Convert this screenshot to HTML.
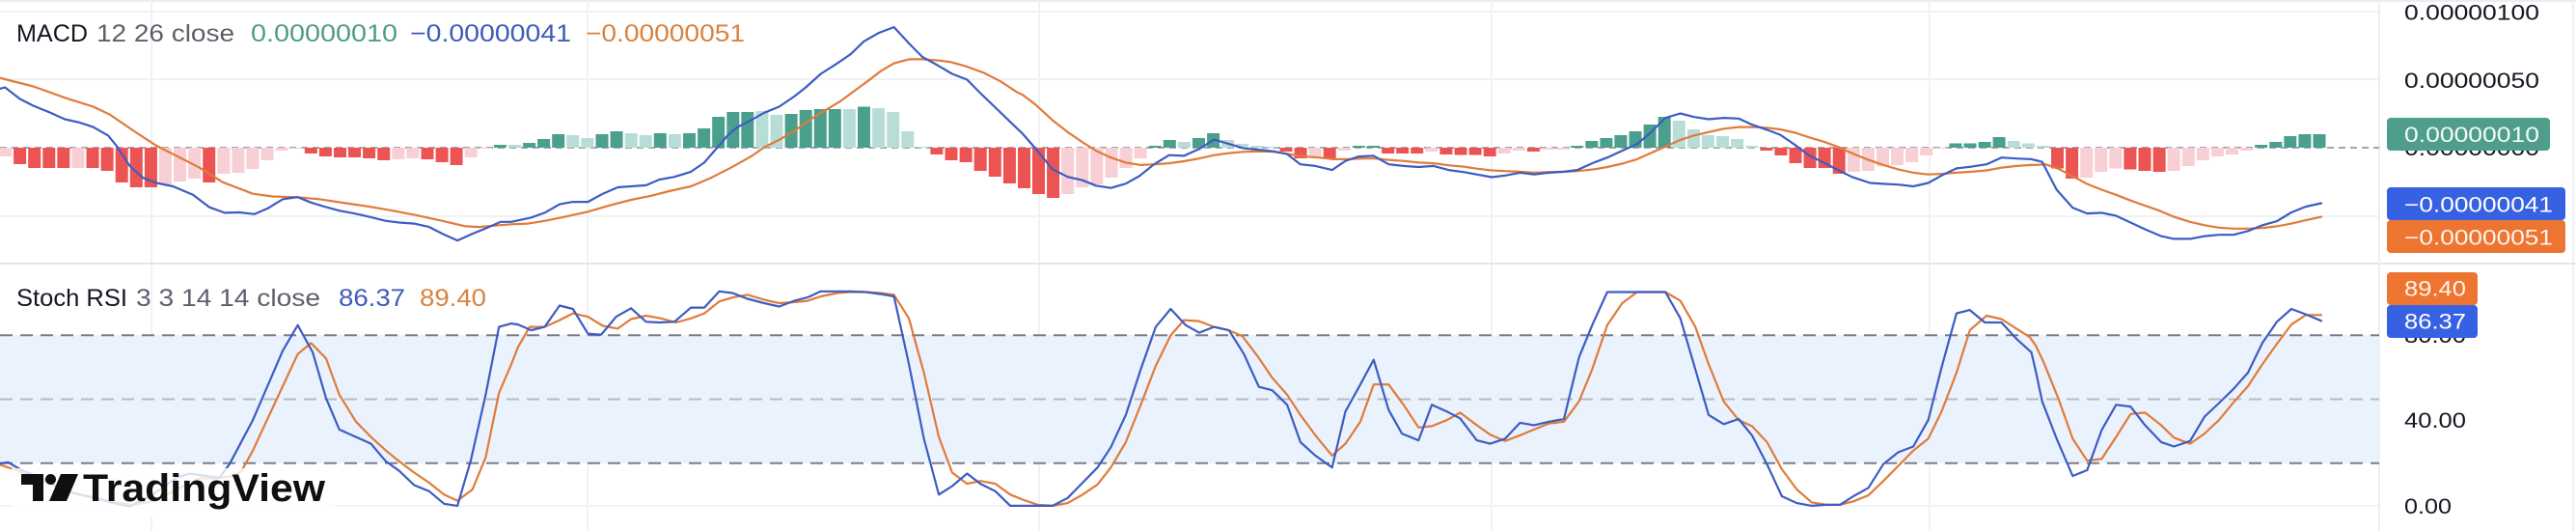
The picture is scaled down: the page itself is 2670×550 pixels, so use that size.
<!DOCTYPE html>
<html><head><meta charset="utf-8">
<style>
html,body{margin:0;padding:0;background:#fff;width:2670px;height:550px;overflow:hidden}
svg{display:block}
text{font-family:"Liberation Sans",Arial,sans-serif}
</style></head>
<body>
<svg id="s" width="2670" height="550" viewBox="0 0 2670 550" xmlns="http://www.w3.org/2000/svg">
  <rect x="0" y="0" width="2670" height="550" fill="#ffffff"/>
  <!-- borders -->
  <rect x="0" y="0" width="2670" height="2" fill="#ebedf0"/>
  <rect x="2666" y="0" width="2" height="550" fill="#eef0f3"/>
  <!-- horizontal grid MACD -->
  <g fill="#f0f2f5">
    <rect x="0" y="11" width="2466" height="2"/>
    <rect x="0" y="81" width="2466" height="2"/>
    <rect x="0" y="223" width="2466" height="2"/>
    <rect x="0" y="434.5" width="2466" height="2"/>
    <rect x="0" y="523" width="2466" height="2"/>
  </g>
  <!-- vertical grid -->
  <g fill="#f0f2f5">
    <rect x="156" y="0" width="2" height="550"/>
    <rect x="608" y="0" width="2" height="550"/>
    <rect x="1076" y="0" width="2" height="550"/>
    <rect x="1545" y="0" width="2" height="550"/>
    <rect x="1999" y="0" width="2" height="550"/>
  </g>
  <!-- pane separator -->
  <rect x="0" y="272" width="2670" height="2" fill="#e4e6eb"/>
  <!-- axis separator -->
  <rect x="2465" y="0" width="2" height="550" fill="#eceef1"/>

  <!-- stoch band -->
  <rect x="0" y="347" width="2466" height="133" fill="#eaf2fd"/>
  <line x1="0" y1="347.2" x2="2466" y2="347.2" stroke="#7b7e88" stroke-width="2" stroke-dasharray="13 8"/>
  <line x1="0" y1="413.5" x2="2466" y2="413.5" stroke="#b6b9c1" stroke-width="2" stroke-dasharray="13 8"/>
  <line x1="0" y1="479.8" x2="2466" y2="479.8" stroke="#7b7e88" stroke-width="2" stroke-dasharray="13 8"/>

  <!-- MACD zero line -->
  <line x1="0" y1="153" x2="2466" y2="153" stroke="#a3a6ae" stroke-width="2" stroke-dasharray="7 5"/>

  <g id="hist"></g>
  <g id="lines" fill="none" stroke-width="2.2" stroke-linejoin="round" stroke-linecap="round"></g>

  <!-- logo -->
  <rect x="12" y="485" width="335" height="50" fill="#ffffff" opacity="0.8"/>
  <g fill="#0f0f0f">
    <path d="M22,491 H45 V519 H34 V502 H22 Z"/>
    <circle cx="52.5" cy="496.5" r="5.5"/>
    <path d="M63,491 H81 L69,519 H51 Z"/>
  </g>
  <text x="86" y="519" font-size="40" font-weight="bold" fill="#0f0f0f" textLength="251" lengthAdjust="spacingAndGlyphs">TradingView</text>

  <!-- legends -->
  <text x="17" y="43" font-size="25" fill="#131722" textLength="74" lengthAdjust="spacingAndGlyphs">MACD</text>
  <text x="100" y="43" font-size="25" fill="#5d606b" textLength="143" lengthAdjust="spacingAndGlyphs">12 26 close</text>
  <text x="260" y="43" font-size="25" fill="#4f9c88" textLength="152" lengthAdjust="spacingAndGlyphs">0.00000010</text>
  <text x="425" y="43" font-size="25" fill="#3d5cb8" textLength="167" lengthAdjust="spacingAndGlyphs">−0.00000041</text>
  <text x="607" y="43" font-size="25" fill="#d9823f" textLength="165" lengthAdjust="spacingAndGlyphs">−0.00000051</text>

  <text x="17" y="317" font-size="25" fill="#131722" textLength="115" lengthAdjust="spacingAndGlyphs">Stoch RSI</text>
  <text x="141" y="317" font-size="25" fill="#5d606b" textLength="191" lengthAdjust="spacingAndGlyphs">3 3 14 14 close</text>
  <text x="351" y="317" font-size="25" fill="#3d5cb8" textLength="69" lengthAdjust="spacingAndGlyphs">86.37</text>
  <text x="435" y="317" font-size="25" fill="#d9823f" textLength="69" lengthAdjust="spacingAndGlyphs">89.40</text>

  <!-- right axis MACD -->
  <g font-size="22" fill="#131722">
    <text x="2492" y="20.5" textLength="140" lengthAdjust="spacingAndGlyphs">0.00000100</text>
    <text x="2492" y="91" textLength="140" lengthAdjust="spacingAndGlyphs">0.00000050</text>
    <text x="2492" y="161" textLength="140" lengthAdjust="spacingAndGlyphs">0.00000000</text>
    <text x="2492" y="355" textLength="64" lengthAdjust="spacingAndGlyphs">80.00</text>
    <text x="2492" y="443" textLength="64" lengthAdjust="spacingAndGlyphs">40.00</text>
    <text x="2492" y="532" textLength="49" lengthAdjust="spacingAndGlyphs">0.00</text>
  </g>
  <!-- value labels -->
  <rect x="2474" y="122" width="169" height="34" rx="4" fill="#4f9e8c"/>
  <text x="2492" y="147" font-size="22" fill="#f2faf8" textLength="140" lengthAdjust="spacingAndGlyphs">0.00000010</text>
  <rect x="2474" y="194" width="185" height="34" rx="4" fill="#3761e3"/>
  <text x="2492" y="219.5" font-size="22" fill="#ffffff" textLength="154" lengthAdjust="spacingAndGlyphs">−0.00000041</text>
  <rect x="2474" y="228" width="185" height="34" rx="4" fill="#ee7431"/>
  <text x="2492" y="253.5" font-size="22" fill="#fff4ea" textLength="154" lengthAdjust="spacingAndGlyphs">−0.00000051</text>

  <rect x="2474" y="282" width="94" height="34" rx="4" fill="#ee7431"/>
  <text x="2492" y="306.5" font-size="22" fill="#fff4ea" textLength="64" lengthAdjust="spacingAndGlyphs">89.40</text>
  <rect x="2474" y="316" width="94" height="34" rx="4" fill="#3761e3"/>
  <text x="2492" y="340.5" font-size="22" fill="#ffffff" textLength="64" lengthAdjust="spacingAndGlyphs">86.37</text>
</svg>
<script>
(function(){
var NS="http://www.w3.org/2000/svg";
var Z=[[0,2.9,2.85,530],[530,2.9,2.85,1060],[1060,2.9,2.85,1590],[1590,2.9,2.85,2110],[2110,3,2.85,99999]];
function pts(arrs){var out=[];for(var i=0;i<arrs.length;i++){var a=arrs[i],z=Z[i];for(var j=0;j<a.length;j+=2){var x=z[0]+a[j]/z[1],y=a[j+1]/z[2];if(x<z[3])out.push(x.toFixed(1)+","+y.toFixed(1));}}return out.join(" ");}
var H=[-9,-17,-21,-21,-21,-21,-21,-24,-36,-41,-41,-38,-35,-32,-36,-27,-26,-22,-13,-3,-1,-6,-9,-10,-10,-11,-13,-12,-11,-12,-15,-18,-10,-1,3,3,5,9,14,13,10,14,17,15,13,15,14,15,20,32,37,37,38,34,35,39,40,40,40,42.5,41,37,17,1,-7,-13,-15,-24,-30,-37,-42,-48,-52,-48,-41,-38,-31,-21,-11,2,8,6,10,15,8,4,2,1,-4,-11,-9,-12,-3,2,2,-6,-6,-6,-4,-7,-7.5,-7.5,-9,-6,-3,-4,-2,-2,2,7,10,13,17,24,32,28,19,13,12,9,2,-3,-8,-16,-21,-21,-27,-25,-24,-19,-18,-15,-8,-1,4.5,4.5,6,11,7,4.5,2,-21.5,-32,-31,-25,-21.5,-22.5,-24,-25,-24,-19,-13,-9,-7,-3,3,6,12,14,14];
var C="PRRRRPRRRRRPPPRPPPPPPRRRRRRPPRRRPP"+"GLGGGLLGGLLGLGGGGGLLGGGGLGLLLL"+"RRRRRRRRRPPPPPP"+"GGLGGLLLL"+"RRPRPGGRRRPRRRRPPRPP"+"GGGGGGGLLLLLL"+"RRRRRRPPPPPPP"+"GGGGLLL"+"RRPPPRRRPPPPPP"+"GGGGG";
var col={R:"#ec5454",P:"#f8cfd5",G:"#4a9f8d",L:"#b8ddd7"};
var hs="";
for(var k=0;k<H.length;k++){var cx=5.5+15.085*k,h=H[k],y=h>=0?153-h:153,hh=Math.max(Math.abs(h),1);hs+='<rect x="'+(cx-6.5).toFixed(1)+'" y="'+y.toFixed(1)+'" width="13" height="'+hh.toFixed(1)+'" fill="'+col[C.charAt(k)]+'"/>';}
var hg=document.getElementById("hist");
var tmp=document.createElementNS(NS,"g");
var parser=new DOMParser();
function addSvg(g,str){var doc=parser.parseFromString('<svg xmlns="'+NS+'">'+str+'</svg>',"image/svg+xml");var ch=doc.documentElement.childNodes;for(var i=0;i<ch.length;i++){g.appendChild(document.importNode(ch[i],true));}}
addSvg(hg,hs);

var MB=[[0,262,15,258,60,292,100,312,150,332,195,352,240,362,280,375,325,400,350,430,390,490,430,525,470,540,520,550,580,575,630,612,675,628,720,627,765,632,805,615,850,588,895,582,935,598,975,610,1020,622,1065,630,1110,640,1160,652,1200,657,1245,660,1290,670,1330,690,1375,710,1420,690,1465,672,1505,655],
[0,655,60,642,100,628,145,603,185,596,230,596,275,572,320,553,360,550,405,547,445,530,490,522,540,507,580,480,615,440,650,400,680,375,720,355,760,333,805,315,850,285,885,258,930,218,975,190,1020,160,1060,122,1105,97,1150,80,1195,128,1235,168,1280,192,1325,218,1370,235,1410,275,1460,322,1505,365,1545,415],
[0,395,40,440,90,500,135,522,180,532,220,548,265,555,310,542,350,520,395,485,440,458,485,460,530,440,575,412,620,425,665,438,710,442,755,447,795,455,835,485,880,490,930,502,970,475,1010,462,1055,460,1100,485,1145,490,1190,493,1235,490,1280,502,1325,508,1365,515,1410,523,1450,518,1495,510,1540,515],
[0,515,45,510,90,507,130,502,175,482,220,465,265,445,310,425,350,392,395,348,440,335,480,345,525,352,570,348,615,350,655,368,700,383,740,398,785,428,825,458,870,480,910,500,955,522,1010,540,1055,543,1095,545,1140,550,1185,540,1225,518,1270,497,1315,492,1360,485,1405,465,1450,468,1495,470,1535,480],
[0,473,20,478,65,560,115,613,160,630,205,628,250,637,295,657,340,677,390,697,430,705,480,705,525,697,570,693,615,693,660,682,705,665,750,653,795,627,840,610,888,600]];
var MS=[[0,230,100,255,200,290,280,315,330,338,400,385,470,430,530,460,600,495,670,538,760,572,820,580,890,582,960,588,1040,600,1110,610,1180,622,1250,635,1330,652,1400,668,1440,670,1500,665],
[0,662,50,660,100,652,150,642,230,625,300,605,360,590,420,578,480,563,540,550,600,525,660,495,720,462,760,435,810,410,860,380,900,352,940,328,990,298,1040,262,1080,233,1110,210,1150,187,1195,175,1235,175,1280,178,1320,183,1370,197,1420,215,1470,240,1520,272,1568,310],
[0,280,40,310,90,355,135,390,180,420,220,445,265,465,310,480,355,487,400,485,440,482,485,476,530,468,575,458,620,452,665,448,710,447,755,448,800,455,845,462,890,465,935,470,975,470,1020,468,1060,468,1100,472,1145,475,1190,480,1235,482,1280,488,1325,492,1365,498,1410,503,1450,505,1495,507,1540,508],
[0,510,45,508,90,507,130,505,180,500,220,493,265,483,310,470,350,452,395,433,440,413,480,400,525,390,570,380,615,375,660,375,700,377,740,382,785,392,825,405,870,418,910,432,955,452,1000,470,1050,487,1095,500,1140,510,1185,515,1230,513,1270,510,1315,507,1360,503,1405,495,1450,490,1495,487,1535,485],
[0,487,30,485,70,498,115,520,160,543,205,560,250,575,295,592,340,607,385,622,430,640,480,655,525,665,570,672,615,675,660,675,705,673,750,668,795,660,840,650,888,640]];
var SK=[[0,1368,25,1365,60,1385,120,1410,180,1440,230,1458,290,1470,340,1485,390,1495,440,1470,490,1440,530,1410,570,1398,620,1405,660,1410,690,1370,760,1240,850,1035,895,960,940,1040,980,1175,1020,1268,1070,1290,1115,1310,1160,1362,1200,1390,1245,1432,1290,1450,1335,1487,1375,1493,1415,1360,1460,1165,1500,965,1545,957],
[0,955,20,958,60,975,100,965,145,902,185,912,230,985,270,988,315,935,360,910,405,950,445,952,490,950,540,908,580,908,625,860,665,865,710,882,760,895,805,905,850,888,890,878,930,860,980,860,1020,860,1065,862,1110,868,1150,875,1195,1075,1240,1295,1285,1460,1325,1435,1370,1398,1410,1428,1455,1450,1500,1493,1568,1493],
[0,1493,45,1493,90,1493,135,1470,180,1425,225,1380,265,1320,310,1225,355,1090,400,965,445,912,490,960,530,982,575,965,620,975,665,1045,710,1142,750,1152,795,1195,835,1305,880,1345,930,1380,970,1215,1015,1135,1055,1062,1100,1210,1140,1280,1190,1300,1230,1195,1275,1215,1315,1235,1365,1300,1405,1310,1450,1295,1495,1248,1540,1255],
[0,1255,45,1245,90,1237,135,1055,175,960,220,862,265,862,310,862,350,862,395,862,440,940,485,1090,525,1225,570,1252,615,1237,655,1285,700,1370,745,1465,790,1485,835,1493,880,1490,920,1490,960,1465,1005,1440,1050,1370,1095,1335,1140,1318,1185,1240,1225,1085,1270,925,1310,915,1355,952,1405,952,1450,1000,1495,1040,1535,1190],
[0,1095,20,1185,65,1295,115,1405,160,1388,205,1270,250,1195,295,1200,340,1255,390,1305,430,1318,480,1302,525,1230,570,1190,615,1148,660,1100,705,1012,750,950,795,912,840,928,888,947]];
var SD=[[0,1372,40,1385,100,1405,160,1432,220,1455,280,1470,340,1482,400,1490,450,1482,500,1460,550,1435,600,1412,650,1412,700,1405,725,1392,760,1330,800,1245,850,1140,895,1045,935,1013,980,1058,1020,1165,1070,1245,1115,1290,1160,1330,1200,1362,1245,1395,1290,1425,1335,1460,1375,1478,1420,1445,1460,1350,1500,1160,1545,1040],
[0,1075,20,1025,55,965,100,965,145,945,185,925,230,935,275,962,320,970,360,942,405,932,450,940,495,952,540,940,580,925,625,890,665,878,710,870,760,885,805,895,850,892,890,888,930,875,980,865,1020,862,1065,862,1110,865,1150,870,1195,940,1240,1100,1285,1290,1325,1395,1370,1428,1410,1420,1455,1428,1500,1460,1545,1485],
[0,1475,45,1490,90,1493,135,1485,180,1460,225,1430,265,1380,310,1305,355,1195,400,1080,445,990,485,945,530,948,575,965,620,975,660,992,705,1050,750,1115,795,1165,835,1225,880,1285,930,1345,970,1310,1015,1245,1055,1135,1100,1135,1145,1195,1190,1262,1230,1258,1275,1240,1315,1218,1365,1255,1405,1283,1450,1302,1495,1285,1540,1265],
[0,1268,45,1250,90,1245,135,1185,175,1090,220,960,265,895,310,862,350,862,395,862,440,888,485,965,525,1075,570,1185,615,1240,655,1258,700,1305,745,1385,790,1445,835,1483,880,1490,920,1490,960,1480,1005,1462,1050,1420,1095,1375,1140,1330,1185,1295,1225,1215,1270,1100,1310,975,1360,932,1405,942,1450,970,1490,995,1535,1070],
[0,1020,25,1070,70,1175,115,1295,160,1360,205,1355,250,1290,295,1222,340,1218,390,1255,430,1292,480,1310,525,1280,570,1240,615,1188,660,1140,705,1075,750,1015,795,958,840,930,888,930]];
var BL="#3d5cc2",OR="#e07b39";
var ls='<polyline points="'+pts(MS)+'" stroke="'+OR+'"/>'+
       '<polyline points="'+pts(MB)+'" stroke="'+BL+'"/>'+
       '<polyline points="'+pts(SD)+'" stroke="'+OR+'"/>'+
       '<polyline points="'+pts(SK)+'" stroke="'+BL+'"/>';
addSvg(document.getElementById("lines"),ls);
})();
</script>
</body></html>
